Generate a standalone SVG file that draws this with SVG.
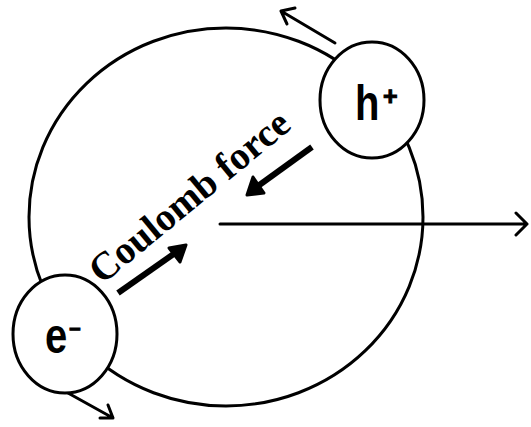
<svg xmlns="http://www.w3.org/2000/svg" width="531" height="427" viewBox="0 0 531 427">
<style>
.ln{fill:none;stroke:#000;stroke-width:3;stroke-linecap:round;stroke-linejoin:round}
.thick{fill:none;stroke:#000;stroke-width:6;stroke-linecap:butt;stroke-linejoin:miter}
.pc{fill:#fff;stroke:#000;stroke-width:3}
.lbl{font-family:"Liberation Sans",Arial,sans-serif;font-weight:bold;fill:#000}
.sup{font-family:"Liberation Sans",Arial,sans-serif;font-weight:bold;fill:#000;stroke:#000;stroke-width:1}
.cf{font-family:"Liberation Serif","Times New Roman",serif;font-weight:bold;fill:#000}
</style>
<rect width="531" height="427" fill="#fff"/>
<g id="orbit">
<ellipse cx="226" cy="217" rx="197" ry="189" class="ln"/>
</g>
<g id="connectors">
<path class="ln" d="M335,43 L281,11 M295,8 L281,11 L287,24"/>
<path class="ln" d="M68,393 L113,418 M100,418 L113,418 L108,405"/>
<path class="ln" d="M220,224 L527,224 M516,213 L527,224 L516,235"/>
<path class="thick" d="M312,147 L258,186"/>
<path d="M247,195 L253,177 L264,193 Z" fill="#000" stroke="#000" stroke-width="3" stroke-linejoin="round"/>
<path class="thick" d="M118,293 L175,253"/>
<path d="M186,245 L169,248 L180,262 Z" fill="#000" stroke="#000" stroke-width="3" stroke-linejoin="round"/>
</g>
<g id="hole">
<ellipse cx="372" cy="100" rx="52" ry="58" class="pc"/>
<text class="lbl" transform="translate(355,120) scale(1,1.25)" font-size="40">h</text>
<text class="sup" x="383" y="105" font-size="25">+</text>
</g>
<g id="electron">
<ellipse cx="65" cy="334" rx="52" ry="59" class="pc"/>
<text class="lbl" transform="translate(45,353) scale(1,1.25)" font-size="40">e</text>
<text class="sup" x="69" y="336" font-size="20">−</text>
</g>
<g id="label">
<text class="cf" font-size="39" transform="translate(102,285) rotate(-39.5)">Coulomb force</text>
</g>
</svg>
